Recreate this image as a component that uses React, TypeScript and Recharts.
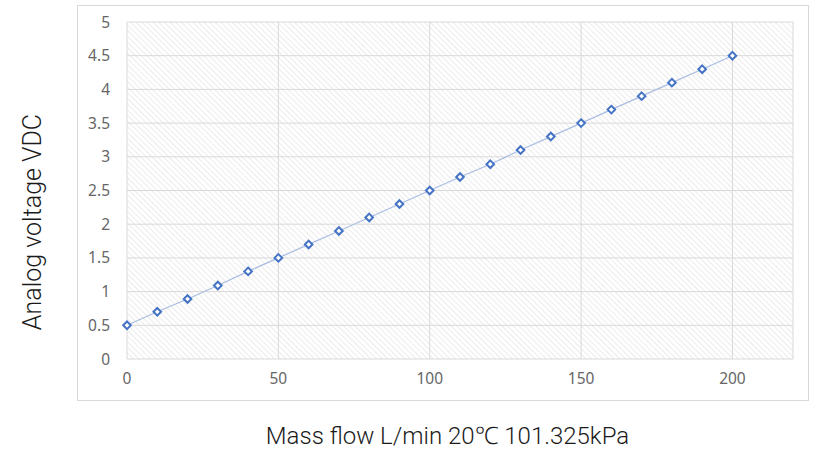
import React from "react";
import {
  CartesianGrid,
  Line,
  LineChart,
  XAxis,
  YAxis,
} from "recharts";

const flow = [0, 10, 20, 30, 40, 50, 60, 70, 80, 90, 100, 110, 120, 130, 140, 150, 160, 170, 180, 190, 200];
const voltage = [0.5, 0.7, 0.89, 1.09, 1.3, 1.5, 1.7, 1.9, 2.1, 2.3, 2.5, 2.7, 2.89, 3.1, 3.3, 3.5, 3.7, 3.9, 4.1, 4.3, 4.5];
const xTicks = [0, 50, 100, 150, 200];
const yTicks = [0, 0.5, 1, 1.5, 2, 2.5, 3, 3.5, 4, 4.5, 5];

const data = flow.map((f, i) => ({ flow: f, voltage: voltage[i] }));

const TICK_FONT = '"Noto Sans", sans-serif';
const TITLE_FONT = 'Roboto, "Noto Sans", sans-serif';

function Diamond(props: any) {
  const { cx, cy } = props;
  if (cx == null || cy == null) return null;
  const r = 3.8;
  return (
    <path
      d={`M${cx},${cy - r} L${cx + r},${cy} L${cx},${cy + r} L${cx - r},${cy} Z`}
      fill="#ffffff"
      stroke="#4472c4"
      strokeWidth={2}
    />
  );
}

export default function App() {
  return (
    <div
      style={{
        position: "absolute",
        left: 0,
        top: 0,
        width: 818,
        height: 450,
        background: "#ffffff",
      }}
    >
      <div
        style={{
          position: "absolute",
          left: 77,
          top: 5,
          width: 730,
          height: 394,
          border: "1px solid #d9d9d9",
        }}
      />
      <div style={{ position: "absolute", left: 0, top: 0 }}>
        <LineChart
          width={818}
          height={450}
          data={data}
          margin={{ top: 22, right: 25, bottom: 61, left: 87 }}
        >
          <defs>
            <pattern
              id="hatch"
              patternUnits="userSpaceOnUse"
              width={4}
              height={4}
              patternTransform="rotate(-45)"
            >
              <rect width={4} height={4} fill="#ffffff" />
              <line x1={0} y1={0} x2={0} y2={4} stroke="#e3e3e3" strokeWidth={1.4} />
            </pattern>
          </defs>
          <CartesianGrid
            fill="url(#hatch)"
            stroke="#d9d9d9"
            strokeWidth={1}
          />
          <XAxis
            dataKey="flow"
            type="number"
            domain={[0, 220]}
            ticks={xTicks}
            axisLine={false}
            tickLine={false}
            height={30}
            tickMargin={8}
            tick={{ fill: "#666666", fontSize: 15.5, fontFamily: TICK_FONT }}
          />
          <YAxis
            type="number"
            domain={[0, 5]}
            ticks={yTicks}
            axisLine={false}
            tickLine={false}
            width={40}
            tickMargin={11}
            tick={{ fill: "#666666", fontSize: 15.5, fontFamily: TICK_FONT }}
          />
          <Line
            dataKey="voltage"
            type="linear"
            stroke="#a9bde3"
            strokeWidth={1.2}
            dot={<Diamond />}
            activeDot={false}
            isAnimationActive={false}
          />
        </LineChart>
      </div>
      <div
        style={{
          position: "absolute",
          left: 0,
          top: 421,
          width: 895,
          textAlign: "center",
          fontFamily: TITLE_FONT,
          fontWeight: 300,
          fontSize: 24,
          lineHeight: "30px",
          color: "#1a1a1a",
          whiteSpace: "nowrap",
        }}
      >
        Mass flow L/min 20℃ 101.325kPa
      </div>
      <div
        style={{
          position: "absolute",
          left: 33,
          top: 222,
          transform: "translate(-50%, -50%) rotate(-90deg)",
          fontFamily: TITLE_FONT,
          fontWeight: 300,
          fontSize: 25,
          lineHeight: "30px",
          color: "#1a1a1a",
          whiteSpace: "nowrap",
        }}
      >
        Analog voltage VDC
      </div>
    </div>
  );
}
